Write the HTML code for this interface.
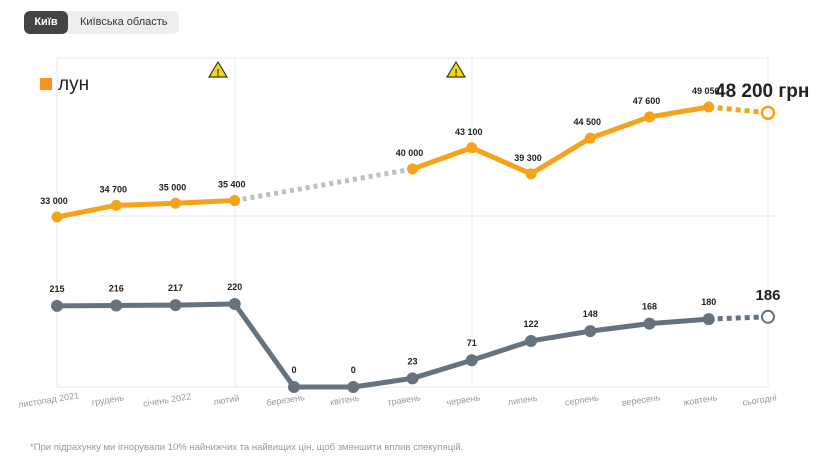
<!DOCTYPE html>
<html><head><meta charset="utf-8"><style>
body{margin:0;width:834px;height:461px;background:#fff;font-family:"Liberation Sans",sans-serif;overflow:hidden;position:relative}
.tabs{position:absolute;left:24px;top:11px;height:23px;width:155px;background:#eee;border-radius:6px}
.tab{position:absolute;top:0;height:23px;line-height:23px;font-size:11px}
</style></head><body>
<div class="tabs">
<div class="tab" style="left:0;width:44px;background:#444;color:#fff;border-radius:6px;text-align:center;font-weight:bold">Київ</div>
<div class="tab" style="left:56px;color:#333">Київська область</div>
</div>
<svg id="chart" width="834" height="461" style="position:absolute;left:0;top:0"></svg>
<script>
const categories=["листопад 2021","грудень","січень 2022","лютий","березень","квітень","травень","червень","липень","серпень","вересень","жовтень","сьогодні"];
const priceValues=[33000,34700,35000,35400,null,null,40000,43100,39300,44500,47600,49050,48200];
const priceLabels=["33 000","34 700","35 000","35 400","","","40 000","43 100","39 300","44 500","47 600","49 050","48 200 грн"];
const countValues=[215,216,217,220,0,0,23,71,122,148,168,180,186];
const NS="http://www.w3.org/2000/svg";
const svg=document.getElementById('chart');
const x=i=>57+i*59.25;
const yP=v=>217-(v-33000)/145.9;
const yC=v=>387-v/2.65;
function el(t,a,p){const e=document.createElementNS(NS,t);for(const k in a)e.setAttribute(k,a[k]);(p||svg).appendChild(e);return e;}
let f=el('rect',{x:57,y:58,width:711,height:329,fill:'none',stroke:'#e8e8e8'});


[235,472].forEach(v=>{let l=el('line',{x1:v,x2:v,y1:58,y2:387,stroke:'#e8e8e8'});});
let h=el('line',{x1:57,x2:776,y1:216,y2:216,stroke:'#e8e8e8'});
[218,456].forEach(v=>{let g=el('g',{});
el('polygon',{points:`${v},62 ${v+9},77 ${v-9},77`,fill:'#f5d90a',stroke:'#333','stroke-width':1.2},g);
let t=el('text',{x:v,y:76,'font-size':10,'font-weight':'bold','text-anchor':'middle',fill:'#333'},g);t.textContent='!';});
let lg=el('g',{});
el('rect',{x:40,y:78,width:12,height:12,fill:'#f7941d'},lg);
let lt=el('text',{x:58,y:90,'font-size':19,fill:'#222'},lg);lt.textContent='лун';
function seg(a,b,yf,vals,col,dash,name){let l=el('line',{x1:x(a),y1:yf(vals[a]),x2:x(b),y2:yf(vals[b]),stroke:col,'stroke-width':5,'stroke-dasharray':dash||''});}
for(let i=0;i<3;i++)seg(i,i+1,yP,priceValues,'#f7a21b','', 'price-line');
seg(3,6,yP,priceValues,'#b9c0c6','4 4','price-gap-line');
for(let i=6;i<11;i++)seg(i,i+1,yP,priceValues,'#f7a21b','','price-line');
seg(11,12,yP,priceValues,'#f7a21b','5 4','price-forecast-line');
for(let i=0;i<11;i++)seg(i,i+1,yC,countValues,'#66727d','','count-line');
seg(11,12,yC,countValues,'#66727d','5 4','count-forecast-line');
priceValues.forEach((v,i)=>{if(v===null)return;const last=i===12;
let c=el('circle',{cx:x(i),cy:yP(v),r:last?6:5.5,fill:last?'#fff':'#f7a21b',stroke:'#f7a21b','stroke-width':last?2.5:0});

let t=el('text',{x:last?x(i)-53:x(i)-3,y:last?yP(v)-16:yP(v)-13,'font-size':last?19:9,'font-weight':'bold','text-anchor':last?'start':'middle',fill:'#222'});
t.textContent=priceLabels[i];});
countValues.forEach((v,i)=>{const last=i===12;
let c=el('circle',{cx:x(i),cy:yC(v),r:6,fill:last?'#fff':'#66727d',stroke:'#66727d','stroke-width':last?2:0});

let t=el('text',{x:x(i),y:last?yC(v)-17:yC(v)-14,'font-size':last?15:9,'font-weight':'bold','text-anchor':'middle',fill:'#222'});
t.textContent=String(v);});
categories.forEach((c,i)=>{let t=el('text',{x:x(i)-8,y:403,'font-size':9,'text-anchor':'middle',fill:'#999',transform:`rotate(-9 ${x(i)-8} 403)`});
t.textContent=c;});
let fn=el('text',{x:30,y:450,'font-size':9.5,fill:'#999'});
fn.textContent='*При підрахунку ми ігнорували 10% найнижчих та найвищих цін, щоб зменшити вплив спекуляцій.';
</script>
</body></html>
